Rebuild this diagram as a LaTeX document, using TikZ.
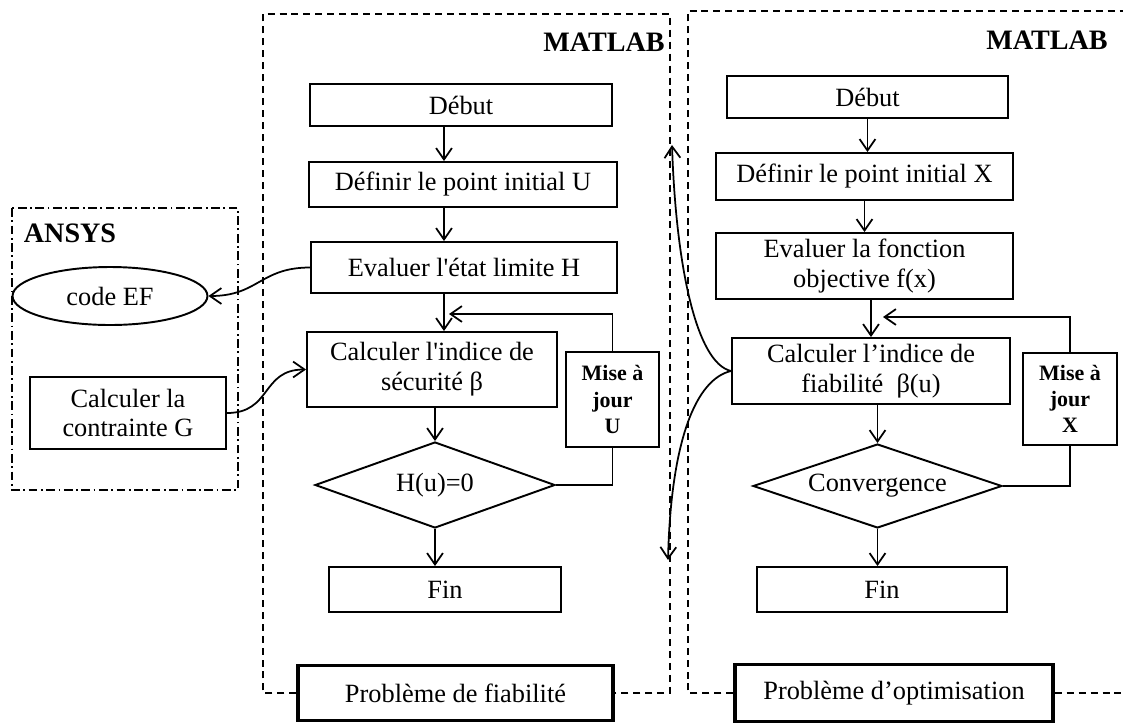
\documentclass[tikz,border=0pt]{standalone}
\usepackage{fontspec}
\setmainfont{Liberation Serif}
\usetikzlibrary{shapes.geometric,arrows.meta}

\begin{document}
\begin{tikzpicture}[x=0.02cm, y=-0.02cm,
    font=\fontsize{15}{17}\selectfont,
    fl/.style={-{Straight Barb[length=6.5pt,width=9pt]}, line width=1pt},
    bloc/.style={draw, line width=1.1pt, align=center, inner sep=1pt},
    majbox/.style={bloc, font=\fontsize{12.5}{15}\selectfont\bfseries},
    decision/.style={draw, diamond, aspect=3, line width=1.1pt, inner sep=0pt},
    titre/.style={draw, line width=2pt, align=center},
    cadre/.style={line width=0.6pt, dash pattern=on 4pt off 2.8pt}]
  \useasboundingbox (0,0) rectangle (1123,724);
  % ANSYS
  \draw[line width=0.6pt, dash pattern=on 5pt off 2pt on 1pt off 2pt] (12,208) rectangle (238,490);
  \node[font=\fontsize{16}{18}\selectfont\bfseries] (ansys) at (70,233) {ANSYS};
  \node[draw, ellipse, line width=1.1pt, minimum width=3.9cm, minimum height=1.16cm, inner sep=0pt] (ef) at (110,296) {code EF};
  \node[bloc, minimum width=3.92cm, minimum height=1.44cm] (contr) at (128,413) {Calculer la\\ contrainte G};
  % probleme de fiabilite
  \node[bloc, minimum width=6.04cm, minimum height=0.84cm] (debutA) at (461,105) {Début};
  \node[bloc, minimum width=6.16cm, minimum height=0.9cm] (defA) at (463,184.5) {Définir le point initial U};
  \node[bloc, minimum width=6.12cm, minimum height=1.02cm] (evalA) at (464,267.5) {Evaluer l\textquotesingle état limite H};
  \node[bloc, minimum width=5cm, minimum height=1.5cm] (calcA) at (432,369.5) {Calculer l\textquotesingle indice de\\ sécurité β};
  \node[majbox, minimum width=1.86cm, minimum height=1.9cm] (majA) at (612.5,399.5) {Mise à\\ jour\\ U};
  \node[decision, minimum width=4.8cm, minimum height=1.72cm] (testA) at (435,485) {H(u)=0};
  \node[bloc, minimum width=4.64cm, minimum height=0.9cm] (finA) at (445,589.5) {Fin};
  \node[titre, minimum width=6.3cm, minimum height=1.1cm] (probA) at (455.5,693) {Problème de fiabilité};
  \node[font=\fontsize{16}{18}\selectfont\bfseries] (matA) at (604,42) {MATLAB};
  \draw[cadre] (probA.west) -- (263,693) -- (263,14) -- (670,14) -- (670,693) -- (probA.east);
  % probleme d'optimisation
  \node[bloc, minimum width=5.62cm, minimum height=0.84cm] (debutB) at (867.5,97) {Début};
  \node[bloc, minimum width=5.94cm, minimum height=0.94cm] (defB) at (864.5,176.5) {Définir le point initial X};
  \node[bloc, minimum width=5.94cm, minimum height=1.32cm] (evalB) at (864.5,266) {Evaluer la fonction\\ objective f(x)};
  \node[bloc, minimum width=5.56cm, minimum height=1.32cm] (calcB) at (871,371) {Calculer l’indice de\\ fiabilité~~β(u)};
  \node[majbox, minimum width=1.88cm, minimum height=1.84cm] (majB) at (1070,399) {Mise à\\ jour\\ X};
  \node[decision, minimum width=4.98cm, minimum height=1.68cm] (testB) at (877.5,486) {Convergence};
  \node[bloc, minimum width=5cm, minimum height=0.9cm] (finB) at (882,589.5) {Fin};
  \node[titre, minimum width=6.36cm, minimum height=1.14cm] (probB) at (894,693) {Problème d’optimisation};
  \node[font=\fontsize{16}{18}\selectfont\bfseries] (matB) at (1047,40) {MATLAB};
  \draw[cadre] (probB.west) -- (688,693) -- (688,11) -- (1123,11);
  \draw[cadre] (probB.east) -- (1123,693);
  % fleches gauche
  \coordinate (colA) at (444,0);
  \draw[fl] (debutA.south -| colA) -- (defA.north -| colA);
  \draw[fl] (defA.south -| colA) -- (evalA.north -| colA);
  \draw[fl] (evalA.south -| colA) -- (calcA.north -| colA);
  \draw[fl] (calcA.south -| testA) -- (testA.north);
  \draw[fl] (testA.south) -- (finA.north -| testA);
  \coordinate (bouclA) at (449,314);
  \draw[fl] (majA.north) |- (bouclA);
  \draw[line width=1pt] (majA.south) |- (testA.east);
  % fleches droite
  \draw[fl] (debutB.south) -- (debutB.south |- defB.north);
  \draw[fl] (defB.south) -- (defB.south |- evalB.north);
  \draw[fl] (evalB.south -| calcB) -- (calcB.north);
  \draw[fl] (calcB.south -| testB) -- (testB.north);
  \draw[fl] (testB.south) -- (testB.south |- finB.north);
  \coordinate (bouclB) at (883,317);
  \draw[fl] (majB.north) |- (bouclB);
  \draw[line width=1pt] (majB.south) |- (testB.east);
  % liens ANSYS - MATLAB
  \draw[fl] (evalA.west) .. controls +(-50,0) and +(50,0) .. (ef.east);
  \draw[fl] (contr.east) .. controls +(45,0) and +(-45,0) .. (calcA.west);
  % liens entre les deux problemes
  \coordinate (hautT) at (672,145);
  \coordinate (basT) at (668,560);
  \draw[fl] (calcB.west) .. controls +(-35,-8) and +(4,120) .. (hautT);
  \draw[fl] (calcB.west) .. controls +(-35,8) and +(3,-120) .. (basT);
\end{tikzpicture}
\end{document}
